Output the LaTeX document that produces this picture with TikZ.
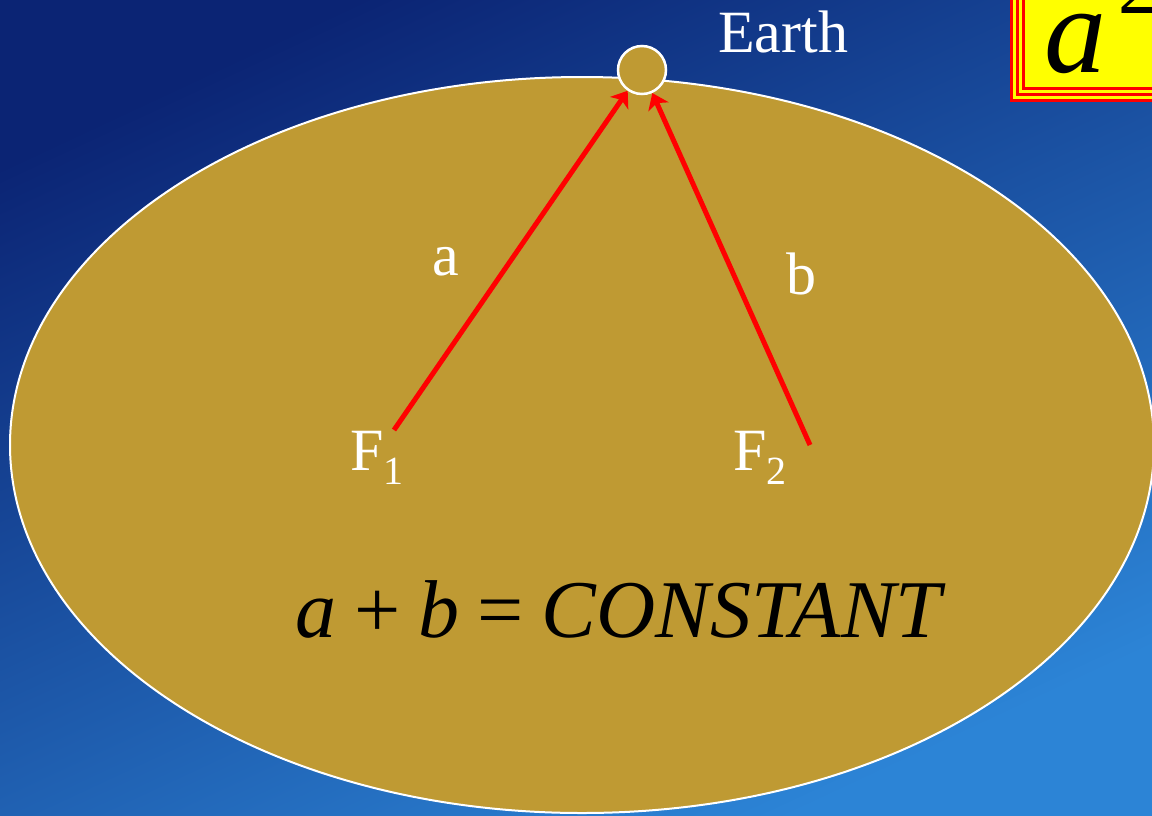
\documentclass[tikz,border=0pt]{standalone}
\usepackage{fontspec}
\setmainfont{Liberation Serif}
\usepackage{tikz}
\usetikzlibrary{positioning,arrows.meta}
\definecolor{sky}{HTML}{0B2474}
\definecolor{skylow}{HTML}{2C84D6}
\definecolor{orbit}{HTML}{BF9A33}
\definecolor{focusred}{HTML}{FF0000}
\definecolor{boxyellow}{HTML}{FFFF00}

\begin{document}
\begin{tikzpicture}[x=1pt,y=-1pt,
  lbl/.style={text=white,font=\fontsize{60}{60}\selectfont,inner sep=0pt,anchor=base west},
  radius line/.style={-{Stealth[length=15pt,width=22pt,inset=4pt]},focusred,line width=5pt}]
  \useasboundingbox (0,0) rectangle (1152,815);
  \shade[top color=sky,bottom color=skylow,shading angle=25] (0,0) rectangle (1152,815);
  % orbit
  \draw[white,line width=2pt,fill=orbit] (582,445) ellipse [x radius=572,y radius=368];
  \node[circle,draw=white,line width=2.5pt,fill=orbit,minimum size=48pt,inner sep=0pt] (earth) at (642,70) {};
  \coordinate (foc1) at (394,430);
  \coordinate (foc2) at (810,445);
  \draw[radius line] (foc1) -- (earth);
  \draw[radius line] (foc2) -- (earth);
  \node[lbl] (earthlab) at (718,52) {Earth};
  \node[lbl] (alab) at (432,275) {a};
  \node[lbl] (blab) at (786,294) {b};
  \node[lbl] (f1lab) at (350,470) {F\raisebox{-14pt}{\fontsize{40}{40}\selectfont 1}};
  \node[lbl] (f2lab) at (733,470) {F\raisebox{-14pt}{\fontsize{40}{40}\selectfont 2}};
  \node[anchor=base west,inner sep=0pt,font=\fontsize{82}{82}\selectfont] (law) at (295,637)
    {\textit{a}\hspace{0.22em}+\hspace{0.22em}\textit{b}\hspace{0.22em}=\hspace{0.22em}\textit{CONSTANT}};
  % formula box, top right
  \foreach \k/\c in {0/focusred,3/boxyellow,6/focusred,9/boxyellow,12/focusred,15/boxyellow}{
    \fill[\c] (1010+\k,-5) rectangle (1160,102-\k);
  }
  \node[anchor=base west,inner sep=0pt,font=\fontsize{124}{124}\selectfont\itshape] (boxa) at (1044,72) {a};
  \node[anchor=base west,inner sep=0pt,font=\fontsize{80}{80}\selectfont] (boxexp) at (1118,13) {2};
\end{tikzpicture}
\end{document}
